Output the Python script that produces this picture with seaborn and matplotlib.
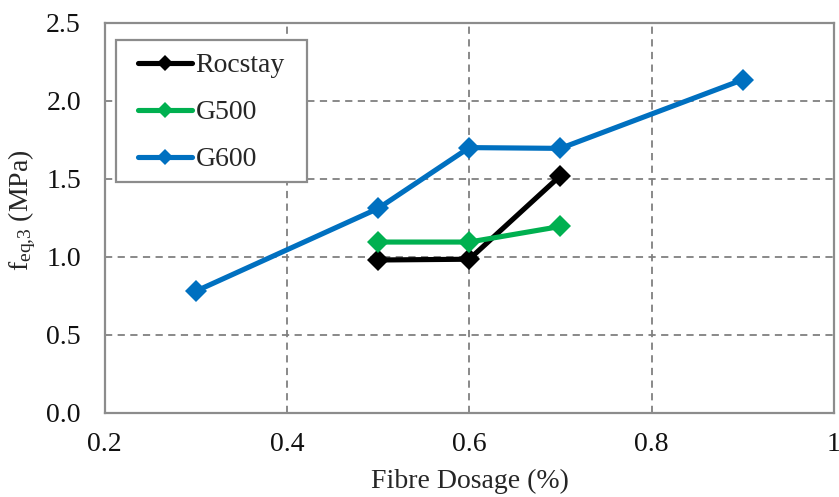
import matplotlib
matplotlib.use("Agg")
import matplotlib.pyplot as plt
import seaborn as sns
import pandas as pd
from matplotlib.lines import Line2D
from matplotlib.patches import Rectangle

series_names = ["Rocstay", "G500", "G600"]
rocstay_x = [0.5, 0.6, 0.7]
rocstay_y = [0.98, 0.985, 1.52]
g500_x = [0.5, 0.6, 0.7]
g500_y = [1.095, 1.095, 1.195]
g600_x = [0.3, 0.5, 0.6, 0.7, 0.9]
g600_y = [0.78, 1.31, 1.70, 1.695, 2.135]
colors = ["#000000", "#00B050", "#0070C0"]
x_ticks = [0.2, 0.4, 0.6, 0.8, 1.0]
x_tick_labels = ["0.2", "0.4", "0.6", "0.8", "1"]
y_ticks = [0.0, 0.5, 1.0, 1.5, 2.0, 2.5]
y_tick_labels = ["0.0", "0.5", "1.0", "1.5", "2.0", "2.5"]

frames = []
for name, xs, ys in [("Rocstay", rocstay_x, rocstay_y), ("G500", g500_x, g500_y), ("G600", g600_x, g600_y)]:
    frames.append(pd.DataFrame({"dose": xs, "feq": ys, "series": name}))
df = pd.concat(frames, ignore_index=True)

sns.set_style("white")
plt.rcParams["font.family"] = ["Liberation Serif", "DejaVu Serif"]
plt.rcParams["mathtext.fontset"] = "custom"
plt.rcParams["mathtext.rm"] = "Liberation Serif"
plt.rcParams["mathtext.it"] = "Liberation Serif"

fig = plt.figure(figsize=(8.39, 4.97), dpi=100)
AX_W, AX_H = 834 - 104.5, 413 - 22.7
ax = fig.add_axes([104.5 / 839, (497 - 413) / 497, AX_W / 839, AX_H / 497])

sns.lineplot(data=df, x="dose", y="feq", hue="series", hue_order=series_names,
             palette=dict(zip(series_names, colors)), marker="D", markersize=11,
             linewidth=3.7, markeredgewidth=0, ax=ax, sort=False, legend=False)

ax.set_xlim(0.2, 1.0)
ax.set_ylim(0, 2.5)
ax.set_xticks(x_ticks)
ax.set_xticklabels(x_tick_labels)
ax.set_yticks(y_ticks)
ax.set_yticklabels(y_tick_labels)
ax.grid(True, color="#808080", linestyle=(0, (4, 3)), linewidth=1.3)
ax.set_axisbelow(True)
for s in ax.spines.values():
    s.set_color("#8c8c8c")
    s.set_linewidth(1.6)
ax.tick_params(axis="both", direction="inout", length=6, width=1.6, color="#8c8c8c",
               labelsize=20, labelcolor="#111111")
ax.tick_params(axis="x", pad=11)
ax.tick_params(axis="y", pad=14)

ax.set_xlabel("Fibre Dosage (%)", fontsize=20)
ax.xaxis.set_label_coords(365.0 / AX_W, -0.143)
ax.set_ylabel(r"f$_{\mathregular{eq{,}3}}$ (MPa)", fontsize=20)
ax.yaxis.set_label_coords(-0.091, 0.52)

# legend frame (drawn separately for wider horizontal padding)
frame = Rectangle(((116 - 104.5) / AX_W, (413 - 182) / AX_H), (307 - 116) / AX_W, (182 - 40) / AX_H,
                  transform=ax.transAxes, facecolor="white", edgecolor="#8c8c8c",
                  linewidth=1.6, zorder=4)
ax.add_patch(frame)

handles = [Line2D([0], [0], color=c, linewidth=3.7, marker="D", markersize=8, markeredgewidth=0)
           for c in colors]
leg = ax.legend(handles, series_names, loc="upper left",
                bbox_to_anchor=((138 - 104.5) / AX_W, (413 - 52.8) / AX_H),
                fontsize=20, frameon=False, handlelength=1.95, handletextpad=0.12,
                labelspacing=0.78, borderpad=0, borderaxespad=0)
leg.set_zorder(5)

fig.savefig("out.png", dpi=100)
